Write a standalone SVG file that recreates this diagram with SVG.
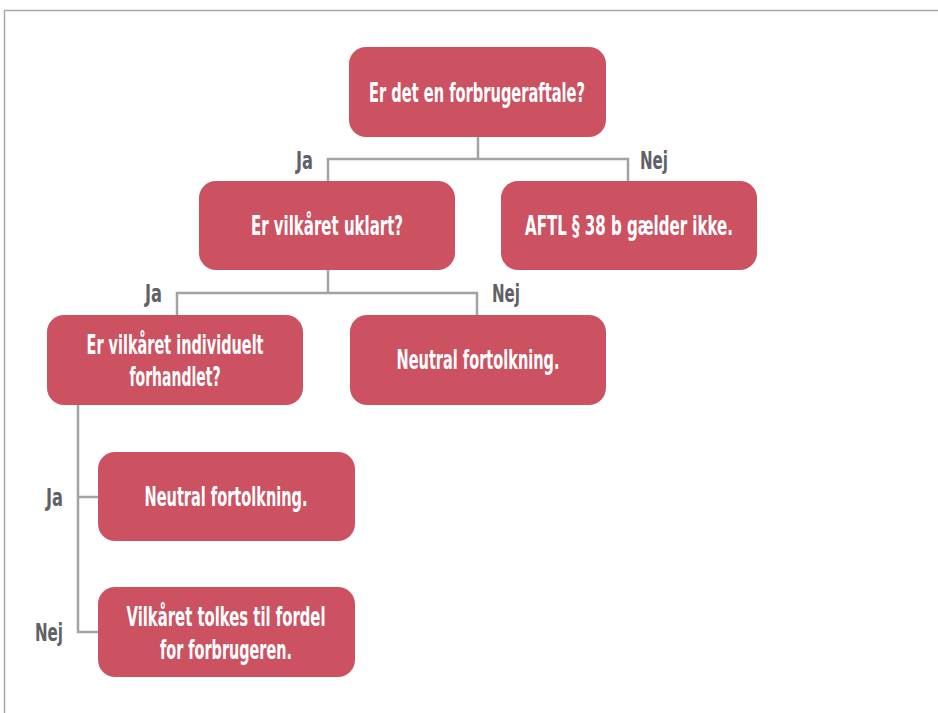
<svg xmlns="http://www.w3.org/2000/svg" width="938" height="713" viewBox="0 0 938 713">
  <style>
    .box { fill: #cc5262; }
    .txt { font-family: "DejaVu Sans Condensed", "DejaVu Sans", "Liberation Sans Narrow", sans-serif; font-stretch: condensed; font-weight: bold; font-size: 26px; fill: #ffffff; text-anchor: middle; }
    .lbl { font-family: "DejaVu Sans Condensed", "DejaVu Sans", sans-serif; font-stretch: condensed; font-weight: bold; font-size: 24px; fill: #5f6166; }
    .wire { fill: none; stroke: #a2a3a6; stroke-width: 2.5; }
    .frame { fill: none; stroke: #a8a8a8; stroke-width: 1.5; }
  </style>

  <!-- outer frame (top and left edges) -->
  <path class="frame" d="M4.5,713 V10.5 H938"/>

  <!-- connectors -->
  <g id="connectors">
    <path class="wire" d="M478,137 V159 M328,181 V159 H628 V181"/>
    <path class="wire" d="M328,270 V293 M177,315 V293 H477 V315"/>
    <path class="wire" d="M78,405 V632 H98 M78,497 H98"/>
  </g>

  <!-- branch labels -->
  <g id="labels">
    <text class="lbl" x="296" y="169" textLength="17" lengthAdjust="spacingAndGlyphs">Ja</text>
    <text class="lbl" x="640" y="169" textLength="28" lengthAdjust="spacingAndGlyphs">Nej</text>
    <text class="lbl" x="145" y="302" textLength="17" lengthAdjust="spacingAndGlyphs">Ja</text>
    <text class="lbl" x="492" y="302" textLength="28" lengthAdjust="spacingAndGlyphs">Nej</text>
    <text class="lbl" x="46" y="506" textLength="17" lengthAdjust="spacingAndGlyphs">Ja</text>
    <text class="lbl" x="35" y="641" textLength="28" lengthAdjust="spacingAndGlyphs">Nej</text>
  </g>

  <g id="n-forbrugeraftale">
    <rect class="box" x="349" y="47" width="257" height="90" rx="17"/>
    <text class="txt" x="477" y="101.5" textLength="216" lengthAdjust="spacingAndGlyphs">Er det en forbrugeraftale?</text>
  </g>

  <g id="n-uklart">
    <rect class="box" x="199" y="181" width="256" height="89" rx="17"/>
    <text class="txt" x="327" y="235" textLength="152" lengthAdjust="spacingAndGlyphs">Er vilkåret uklart?</text>
  </g>

  <g id="n-gaelder-ikke">
    <rect class="box" x="501" y="181" width="256" height="89" rx="17"/>
    <text class="txt" x="629" y="235" textLength="208" lengthAdjust="spacingAndGlyphs">AFTL § 38 b gælder ikke.</text>
  </g>

  <g id="n-individuelt">
    <rect class="box" x="47" y="315" width="256" height="90" rx="17"/>
    <text class="txt" x="175" y="354" textLength="177" lengthAdjust="spacingAndGlyphs">Er vilkåret individuelt</text>
    <text class="txt" x="175" y="386" textLength="91" lengthAdjust="spacingAndGlyphs">forhandlet?</text>
  </g>

  <g id="n-neutral-1">
    <rect class="box" x="350" y="315" width="256" height="90" rx="17"/>
    <text class="txt" x="478" y="369" textLength="163" lengthAdjust="spacingAndGlyphs">Neutral fortolkning.</text>
  </g>

  <g id="n-neutral-2">
    <rect class="box" x="98" y="452" width="257" height="89" rx="17"/>
    <text class="txt" x="226" y="506" textLength="163" lengthAdjust="spacingAndGlyphs">Neutral fortolkning.</text>
  </g>

  <g id="n-forbrugeren">
    <rect class="box" x="98" y="587" width="257" height="90" rx="17"/>
    <text class="txt" x="226" y="626" textLength="199" lengthAdjust="spacingAndGlyphs">Vilkåret tolkes til fordel</text>
    <text class="txt" x="226" y="659" textLength="132" lengthAdjust="spacingAndGlyphs">for forbrugeren.</text>
  </g>
</svg>
